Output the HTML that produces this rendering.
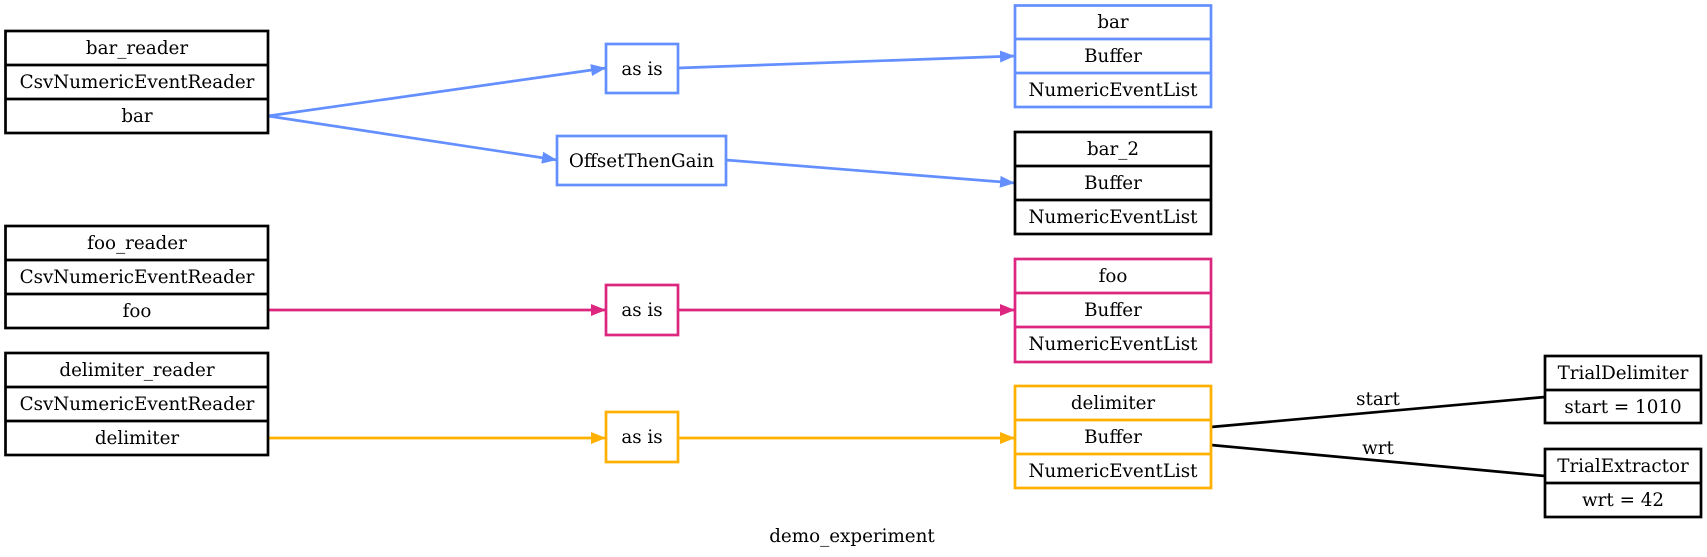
<!DOCTYPE html>
<html><head><meta charset="utf-8"><style>
html,body{margin:0;padding:0;background:#fff}
svg{display:block}
text{font-family:"DejaVu Serif","Liberation Serif",serif;font-size:18.3px;text-anchor:middle}
</style></head><body>
<svg width="1707" height="557" viewBox="0 0 1707 557" xmlns="http://www.w3.org/2000/svg">
<defs>
<marker id="ab" markerUnits="userSpaceOnUse" markerWidth="16" markerHeight="14" refX="15" refY="7" orient="auto"><path d="M0,1 L15,7 L0,13 z" fill="#648FFF"/></marker>
<marker id="ap" markerUnits="userSpaceOnUse" markerWidth="16" markerHeight="14" refX="15" refY="7" orient="auto"><path d="M0,1 L15,7 L0,13 z" fill="#DC267F"/></marker>
<marker id="ao" markerUnits="userSpaceOnUse" markerWidth="16" markerHeight="14" refX="15" refY="7" orient="auto"><path d="M0,1 L15,7 L0,13 z" fill="#FFB000"/></marker>
</defs>
<g fill="none" stroke-width="2.7">
<line x1="268" y1="116" x2="606" y2="68" stroke="#648FFF" marker-end="url(#ab)"/>
<line x1="268" y1="116" x2="557" y2="160" stroke="#648FFF" marker-end="url(#ab)"/>
<line x1="678" y1="68" x2="1015" y2="56" stroke="#648FFF" marker-end="url(#ab)"/>
<line x1="726" y1="160" x2="1015" y2="183" stroke="#648FFF" marker-end="url(#ab)"/>
<line x1="268" y1="310" x2="606" y2="310" stroke="#DC267F" marker-end="url(#ap)"/>
<line x1="678" y1="310" x2="1015" y2="310" stroke="#DC267F" marker-end="url(#ap)"/>
<line x1="268" y1="438" x2="606" y2="438" stroke="#FFB000" marker-end="url(#ao)"/>
<line x1="678" y1="438" x2="1015" y2="438" stroke="#FFB000" marker-end="url(#ao)"/>
<line x1="1211" y1="427" x2="1545" y2="397" stroke="#000"/>
<line x1="1211" y1="445" x2="1545" y2="476" stroke="#000"/>
<g stroke="#000">
<rect x="5.5" y="31" width="262.5" height="102"/><line x1="5.5" y1="65" x2="268" y2="65"/><line x1="5.5" y1="99" x2="268" y2="99"/>
<rect x="5.5" y="226" width="262.5" height="102"/><line x1="5.5" y1="260" x2="268" y2="260"/><line x1="5.5" y1="294" x2="268" y2="294"/>
<rect x="5.5" y="353" width="262.5" height="102"/><line x1="5.5" y1="387" x2="268" y2="387"/><line x1="5.5" y1="421" x2="268" y2="421"/>
<rect x="1015" y="132" width="196" height="102"/><line x1="1015" y1="166" x2="1211" y2="166"/><line x1="1015" y1="200" x2="1211" y2="200"/>
<rect x="1545" y="356" width="156" height="67"/><line x1="1545" y1="390" x2="1701" y2="390"/>
<rect x="1545" y="449" width="156" height="68"/><line x1="1545" y1="483" x2="1701" y2="483"/>
</g>
<g stroke="#648FFF">
<rect x="606" y="44" width="72" height="49"/>
<rect x="557" y="136" width="169" height="49"/>
<rect x="1015" y="5.5" width="196" height="101.5"/><line x1="1015" y1="39" x2="1211" y2="39"/><line x1="1015" y1="73" x2="1211" y2="73"/>
</g>
<g stroke="#DC267F">
<rect x="606" y="285" width="72" height="50"/>
<rect x="1015" y="259" width="196" height="103"/><line x1="1015" y1="293" x2="1211" y2="293"/><line x1="1015" y1="327" x2="1211" y2="327"/>
</g>
<g stroke="#FFB000">
<rect x="606" y="412" width="72" height="50"/>
<rect x="1015" y="386" width="196" height="102"/><line x1="1015" y1="420" x2="1211" y2="420"/><line x1="1015" y1="454" x2="1211" y2="454"/>
</g>
</g>
<g fill="#000">
<text x="137" y="54">bar_reader</text><text x="137" y="88">CsvNumericEventReader</text><text x="137" y="122">bar</text>
<text x="137" y="249">foo_reader</text><text x="137" y="283">CsvNumericEventReader</text><text x="137" y="317">foo</text>
<text x="137" y="376">delimiter_reader</text><text x="137" y="410">CsvNumericEventReader</text><text x="137" y="444">delimiter</text>
<text x="642" y="75">as is</text><text x="641.5" y="167">OffsetThenGain</text>
<text x="642" y="316">as is</text><text x="642" y="443">as is</text>
<text x="1113" y="28">bar</text><text x="1113" y="62">Buffer</text><text x="1113" y="96">NumericEventList</text>
<text x="1113" y="155">bar_2</text><text x="1113" y="189">Buffer</text><text x="1113" y="223">NumericEventList</text>
<text x="1113" y="282">foo</text><text x="1113" y="316">Buffer</text><text x="1113" y="350">NumericEventList</text>
<text x="1113" y="409">delimiter</text><text x="1113" y="443">Buffer</text><text x="1113" y="477">NumericEventList</text>
<text x="1623" y="379">TrialDelimiter</text><text x="1623" y="413">start = 1010</text>
<text x="1623" y="472">TrialExtractor</text><text x="1623" y="506">wrt = 42</text>
<text x="1378" y="405">start</text><text x="1378" y="454">wrt</text>
<text x="852" y="542">demo_experiment</text>
</g>
</svg>
</body></html>
